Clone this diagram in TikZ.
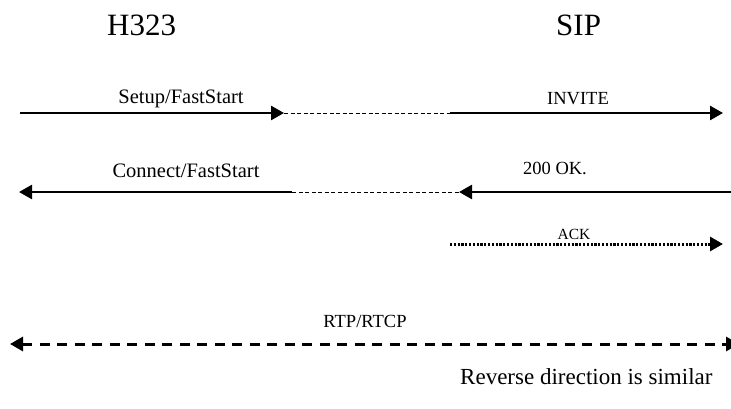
\documentclass[tikz,border=0pt]{standalone}
\usepackage{fontspec}
\setmainfont{Liberation Serif}
\usetikzlibrary{arrows.meta,positioning}

\begin{document}
\begin{tikzpicture}[x=1pt, y=-1pt,
        msg/.style={line width=2.6pt, -{Triangle[length=13pt, width=14pt]}},
        msgback/.style={line width=2.6pt, {Triangle[length=13pt, width=14pt]}-},
        bridge/.style={line width=0.8pt, dash pattern=on 4pt off 2.5pt},
        ack/.style={line width=3pt, dash pattern=on 2.2pt off 1.6pt, -{Triangle[length=13pt, width=14pt]}},
        media/.style={line width=3pt, dash pattern=on 10pt off 7.5pt, {Triangle[length=13pt, width=14pt]}-{Triangle[length=13pt, width=14pt]}},
        title/.style={anchor=base west, inner sep=0pt, font=\fontsize{31}{34}\selectfont},
        lbl/.style={anchor=base, inner sep=0pt, font=\fontsize{18.5}{20}\selectfont}
    ]
        \useasboundingbox (0,0) rectangle (731,409);

        % protocol headings
        \node[title] (h323) at (107,36) {H323};
        \node[title] (sip) at (556,36) {SIP};

        % call setup
        \coordinate (setupL) at (20,113);
        \coordinate (setupM) at (284,113);
        \coordinate (inviteL) at (450,113);
        \coordinate (inviteR) at (723,113);
        \draw[msg] (setupL) -- (setupM);
        \draw[bridge] (setupM) -- (inviteL);
        \draw[msg] (inviteL) -- (inviteR);
        \node[lbl, font=\fontsize{20.5}{22}\selectfont] (setup) at (181,104) {Setup/FastStart};
        \node[lbl] (invite) at (578,105) {INVITE};

        % answer
        \coordinate (connL) at (19,192);
        \coordinate (connM) at (292,192);
        \coordinate (okL) at (459,192);
        \coordinate (okR) at (731,192);
        \draw[msgback] (connL) -- (connM);
        \draw[bridge] (connM) -- (okL);
        \draw[msgback] (okL) -- (okR);
        \node[lbl, font=\fontsize{20.5}{22}\selectfont] (connect) at (186,177) {Connect/FastStart};
        \node[lbl] (ok) at (555,175) {200 OK.};

        % acknowledge
        \coordinate (ackL) at (450,244);
        \coordinate (ackR) at (723,244);
        \draw[ack] (ackL) -- (ackR);
        \node[lbl, font=\fontsize{15.5}{17}\selectfont] (acklbl) at (574,239) {ACK};

        % media
        \coordinate (rtpL) at (10,344);
        \coordinate (rtpR) at (739,344);
        \draw[media] (rtpL) -- (rtpR);
        \node[lbl] (rtp) at (365,327) {RTP/RTCP};

        \node[anchor=base west, inner sep=0pt, font=\fontsize{23}{25}\selectfont] (note) at (460,384) {Reverse direction is similar};
    \end{tikzpicture}
\end{document}
